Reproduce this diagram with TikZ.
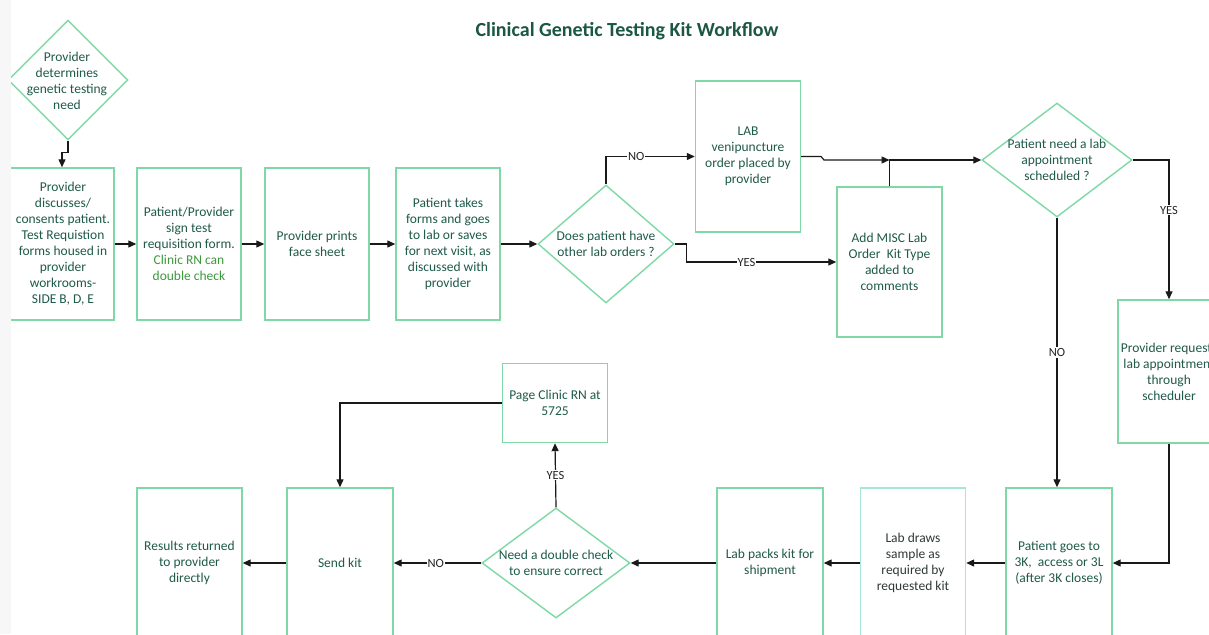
\documentclass[tikz,border=0pt]{standalone}
\usepackage{fontspec}
\setmainfont{Carlito}
\usetikzlibrary{arrows.meta,shapes.geometric}
\definecolor{txt}{HTML}{1F5A4A}
\definecolor{ttl}{HTML}{1B5744}
\definecolor{bord}{HTML}{7ED9A6}
\definecolor{bordb}{HTML}{A6E6D6}
\definecolor{grn}{HTML}{3C9A3C}
\definecolor{dk}{HTML}{2E3A36}
\definecolor{strip}{HTML}{F6F7F6}
\begin{document}
\begin{tikzpicture}[x=1pt,y=-1pt,
  box/.style={draw=bord, line width=1.4pt, align=center, inner sep=0pt,
    font=\fontsize{13.5}{16}\selectfont, text=txt},
  dia/.style={draw=bord, line width=1.4pt, diamond, inner sep=0pt},
  dtext/.style={align=center, inner sep=0pt, font=\fontsize{13.5}{16}\selectfont, text=txt},
  arr/.style={draw=black!90, line width=1.2pt, -{Triangle[length=8pt,width=7pt]}},
  lbl/.style={fill=white, inner sep=1pt, font=\fontsize{12.5}{14}\selectfont, text=black!85}]
\fill[strip] (0,0) rectangle (1209,634);
\fill[white] (11,0) rectangle (1209,634);
\clip (11,0) rectangle (1209,634);
\path[use as bounding box] (0,0) rectangle (1209,634);

\node[font=\bfseries\fontsize{20}{22}\selectfont, text=ttl] (T) at (627,31) {Clinical Genetic Testing Kit Workflow};

% top row
\node[dia, minimum width=120pt, minimum height=120pt] (D1) at (68,80) {};
\node[dtext] (D1t) at (67,81) {Provider\\determines\\genetic testing\\need};

\node[box, minimum width=104pt, minimum height=152pt] (B1) at (62,244) {};
\node[dtext] (B1t) at (63,244) {Provider\\discusses/\\consents patient.\\Test Requistion\\forms housed in\\provider\\workrooms-\\SIDE B, D, E};
\node[box, minimum width=104pt, minimum height=152pt] (B2) at (189,244) {Patient/Provider\\sign test\\requisition form.\\\textcolor{grn}{Clinic RN can}\\\textcolor{grn}{double check}};
\node[box, minimum width=104pt, minimum height=152pt] (B3) at (317,244) {Provider prints\\face sheet};
\node[box, minimum width=104pt, minimum height=152pt] (B4) at (448,244) {Patient takes\\forms and goes\\to lab or saves\\for next visit, as\\discussed with\\provider};

\node[dia, minimum width=136pt, minimum height=118pt] (D2) at (606,244) {};
\node[dtext] (D2t) at (D2) {Does patient have\\other lab orders ?};

\node[box, minimum width=105pt, minimum height=151pt] (LAB) at (748,156.5) {LAB\\venipuncture\\order placed by\\provider};
\node[box, minimum width=105pt, minimum height=150pt] (MISC) at (889.5,262) {Add MISC Lab\\Order~ Kit Type\\added to\\comments};

\node[dia, minimum width=150pt, minimum height=114pt] (D3) at (1057,160) {};
\node[dtext] (D3t) at (D3) {Patient need a lab\\appointment\\scheduled ?};

\node[box, minimum width=102pt, minimum height=143pt] (PR) at (1169,371.5) {Provider requests\\lab appointment\\through\\scheduler};

% bottom row
\node[box, minimum width=106pt, minimum height=150pt] (PG) at (1059,563) {Patient goes to\\3K,~ access or 3L\\(after 3K closes)};
\node[box, draw=bordb, minimum width=105pt, minimum height=150pt, text=dk] (LD) at (913,563) {Lab draws\\sample as\\required by\\requested kit};
\node[box, minimum width=106pt, minimum height=150pt] (LP) at (770,563) {Lab packs kit for\\shipment};
\node[dia, minimum width=148pt, minimum height=110pt] (D4) at (556,563) {};
\node[dtext] (D4t) at (D4) {Need a double check\\to ensure correct};
\node[box, minimum width=105pt, minimum height=79pt] (PC) at (555,403) {Page Clinic RN at\\5725};
\node[box, minimum width=106pt, minimum height=150pt] (SK) at (340,563) {Send kit};
\node[box, minimum width=105pt, minimum height=150pt] (RR) at (189.5,563) {Results returned\\to provider\\directly};

% connectors
\draw[arr] (D1.south) -- ++(0,12) -| (B1.north);
\draw[arr] (B1.east) -- (B2.west);
\draw[arr] (B2.east) -- (B3.west);
\draw[arr] (B3.east) -- (B4.west);
\draw[arr] (B4.east) -- (D2.west);
\draw[arr] (D2.north) |- node[lbl, pos=0.67] {NO} (LAB.west);
\draw[arr] (D2.east) -- ++(12,0) |- node[lbl, pos=0.7] {YES} (MISC.west);
\coordinate (j) at (MISC.north |- D3.west);
\draw[arr] (LAB.east) -- (821,156.5) -- (824,160) -- (j);
\draw[arr] (MISC.north) -- (j) -- (D3.west);
\draw[arr] (D3.east) -| node[lbl, pos=0.68] {YES} (PR.north);
\draw[arr] (D3.south) -- node[lbl, pos=0.5] {NO} (D3.south |- PG.north);
\draw[arr] (PR.south) |- (PG.east);
\draw[arr] (PG.west) -- (LD.east);
\draw[arr] (LD.west) -- (LP.east);
\draw[arr] (LP.west) -- (D4.east);
\draw[arr] (D4.north) -- node[lbl, pos=0.5] {YES} (PC.south);
\draw[arr] (D4.west) -- node[lbl, pos=0.52] {NO} (SK.east);
\draw[arr] (PC.west) -| (SK.north);
\draw[arr] (SK.west) -- (RR.east);
\end{tikzpicture}
\end{document}
